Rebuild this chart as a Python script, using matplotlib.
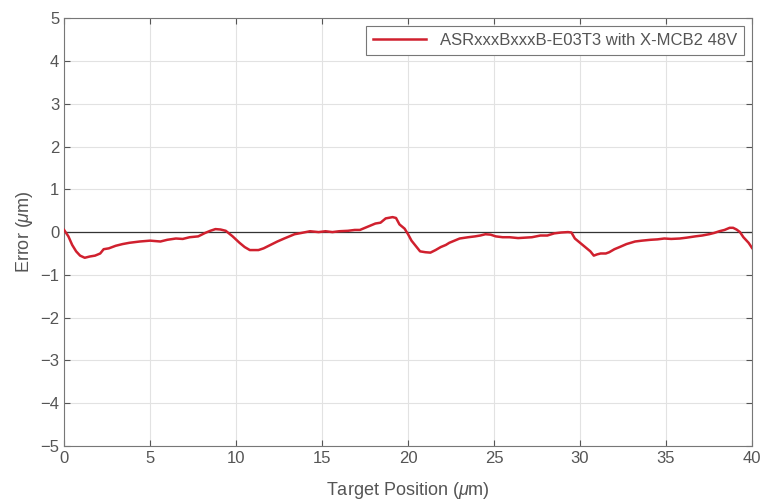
import matplotlib
matplotlib.use("Agg")
import matplotlib.pyplot as plt
import numpy as np

pos = [0, 0.25, 0.47, 0.7, 0.93, 1.2, 1.5, 1.8, 2.1, 2.3, 2.6, 3.0, 3.4, 3.8, 4.4, 5.0, 5.6, 6.0, 6.5, 6.9, 7.3, 7.8, 8.2, 8.5, 8.8, 9.1, 9.4,
       9.8, 10.2, 10.5, 10.8, 11.3, 11.6, 12.0, 12.4, 12.8, 13.1, 13.4, 13.8, 14.3, 14.8, 15.2, 15.6, 16.0, 16.5, 16.9, 17.2, 17.5,
       17.8, 18.1, 18.4, 18.7, 19.1, 19.3, 19.5, 19.8, 20.0, 20.2, 20.4, 20.7, 21.0, 21.3, 21.6, 21.9, 22.2, 22.4, 22.7, 23.0,
       23.5, 23.9, 24.2, 24.5, 24.8, 25.1, 25.5, 25.9, 26.4, 26.8, 27.2, 27.7, 28.1, 28.5, 28.9, 29.3, 29.5, 29.7, 30.0, 30.3,
       30.6, 30.8, 31.0, 31.2, 31.5, 31.7, 32.0, 32.3, 32.7, 33.2, 33.6, 34.1, 34.5, 34.9, 35.3, 35.8, 36.2, 36.7, 37.1, 37.5,
       37.8, 38.1, 38.4, 38.7, 38.9, 39.1, 39.3, 39.5, 39.8, 40.0]
err = [0.05, -0.1, -0.3, -0.45, -0.55, -0.6, -0.57, -0.55, -0.5, -0.4, -0.38, -0.32, -0.28, -0.25, -0.22, -0.2, -0.22, -0.18, -0.15, -0.16, -0.12, -0.1, -0.02, 0.03, 0.07, 0.06, 0.03,
       -0.1, -0.25, -0.35, -0.42, -0.42, -0.38, -0.3, -0.22, -0.15, -0.1, -0.05, -0.02, 0.02, 0.0, 0.02, 0.0, 0.02, 0.03, 0.05, 0.05, 0.1,
       0.15, 0.2, 0.22, 0.32, 0.35, 0.33, 0.18, 0.08, -0.05, -0.2, -0.3, -0.45, -0.47, -0.48, -0.42, -0.35, -0.3, -0.25, -0.2, -0.15,
       -0.12, -0.1, -0.08, -0.05, -0.06, -0.1, -0.12, -0.12, -0.14, -0.13, -0.12, -0.08, -0.08, -0.03, -0.01, 0.0, -0.01, -0.15, -0.25, -0.35,
       -0.45, -0.55, -0.52, -0.5, -0.5, -0.47, -0.4, -0.35, -0.28, -0.22, -0.2, -0.18, -0.17, -0.15, -0.16, -0.15, -0.13, -0.1, -0.08, -0.05,
       -0.02, 0.02, 0.05, 0.1, 0.1, 0.06, 0.0, -0.12, -0.25, -0.37]

label = "ASRxxxBxxxB-E03T3 with X-MCB2 48V"
xticks = [0, 5, 10, 15, 20, 25, 30, 35, 40]
yticks = [-5, -4, -3, -2, -1, 0, 1, 2, 3, 4, 5]

plt.rcParams['font.family'] = ['Liberation Sans Narrow', 'Liberation Sans', 'DejaVu Sans']
plt.rcParams['mathtext.fontset'] = 'custom'
plt.rcParams['mathtext.it'] = 'Liberation Sans:italic'

fig = plt.figure(figsize=(7.63, 5.04), dpi=100)
ax = fig.add_axes([0.084, 0.115, 0.9016, 0.849])
gray = '#555555'
ax.axhline(0, color='#333333', lw=0.9, zorder=2)
ax.plot(pos, err, color='#d0202e', lw=1.8, label=label, zorder=3)
ax.set_xlim(0, 40)
ax.set_ylim(-5, 5)
ax.set_xticks(xticks)
ax.set_yticks(yticks)
ax.grid(True, color='#e2e2e2', linestyle='-', lw=0.8)
ax.tick_params(direction='in', colors=gray, labelsize=12, length=4, top=True, right=True)
for t in ax.get_xticklabels() + ax.get_yticklabels():
    t.set_color(gray)
for s in ax.spines.values():
    s.set_color('#777777')
    s.set_linewidth(0.8)
ax.set_xlabel(r"Target Position ($\mu$m)", fontsize=13, color=gray, labelpad=10)
ax.set_ylabel(r"Error ($\mu$m)", fontsize=13, color=gray, labelpad=4)
leg = ax.legend(loc='upper right', fontsize=12, fancybox=False, framealpha=1,
                edgecolor='#777777', handlelength=3.2, borderpad=0.4)
for t in leg.get_texts():
    t.set_color(gray)
leg.get_frame().set_linewidth(0.8)
fig.savefig("out.png", dpi=100)
